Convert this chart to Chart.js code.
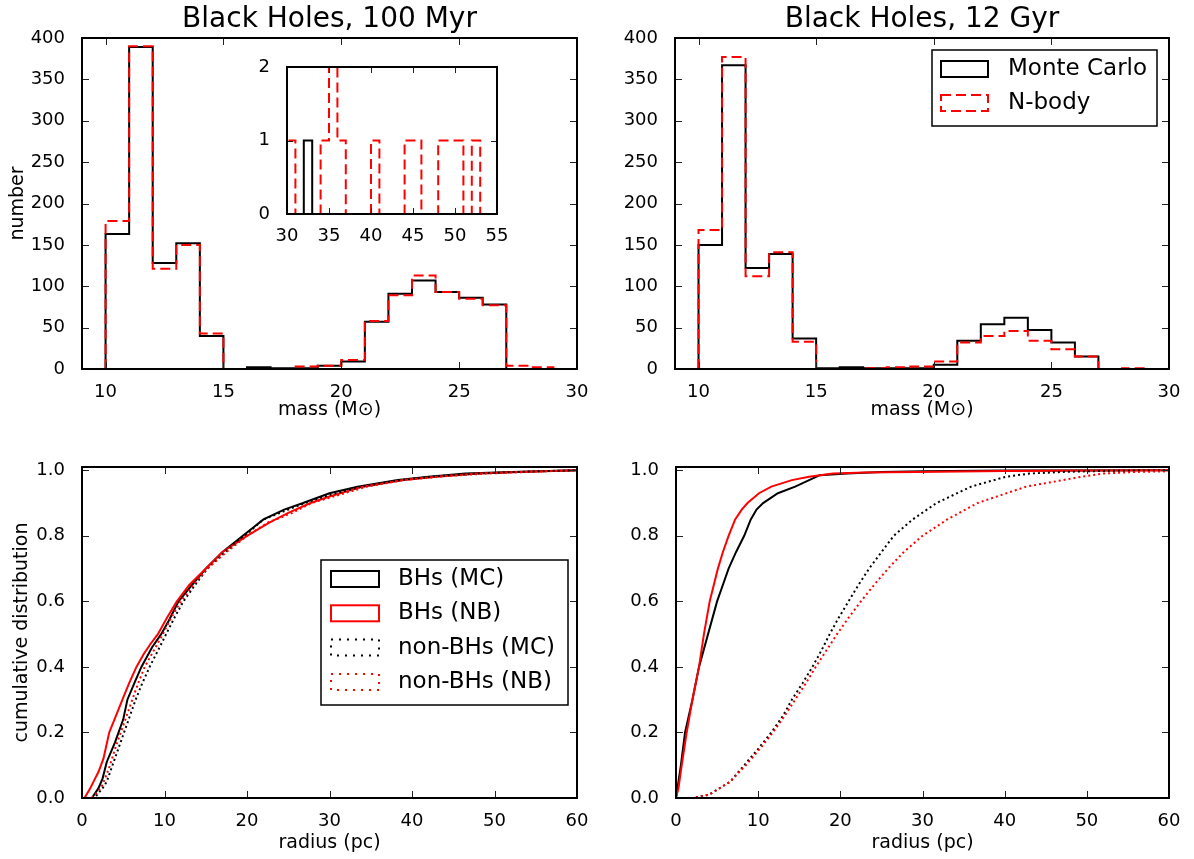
<!DOCTYPE html>
<html>
<head>
<meta charset="utf-8">
<script src="https://cdn.jsdelivr.net/npm/chart.js"></script>
<style>
html, body { margin: 0; padding: 0; background: #fff; }
#fig { position: relative; width: 1194px; height: 859px; overflow: hidden; background: #fff; }
#fig canvas { position: absolute; }
</style>
</head>
<body>
<div id="fig">
  <canvas id="tl" width="597" height="430" style="left:0px;top:0px"></canvas>
  <canvas id="tr" width="597" height="430" style="left:597px;top:0px"></canvas>
  <canvas id="bl" width="597" height="429" style="left:0px;top:430px"></canvas>
  <canvas id="br" width="597" height="429" style="left:597px;top:430px"></canvas>
  <canvas id="ins" width="273" height="205" style="left:240px;top:45px"></canvas>
</div>
<script>
// mass histograms, 1 Msun bins
var massEdges = [10, 11, 12, 13, 14, 15, 16, 17, 18, 19, 20, 21, 22, 23, 24, 25, 26, 27, 28, 29, 30];
var bh100MC = [163, 389, 128, 152, 40, 0, 2, 1, 1, 4, 9, 57, 91, 107, 93, 86, 78, 0, 0, 0];
var bh100NB = [179, 390, 121, 150, 43, 0, 0, 0, 3, 4, 11, 58, 89, 113, 93, 85, 77, 4, 2, 0];
var bh12MC = [150, 367, 122, 139, 37, 1, 2, 1, 1, 1, 5, 34, 54, 62, 47, 32, 15, 0, 0, 0];
var bh12NB = [168, 377, 112, 141, 33, 0, 0, 1, 2, 3, 9, 32, 40, 46, 34, 24, 15, 0, 1, 0];

// inset: high mass tail at 100 Myr
var insetEdges = [30, 31, 32, 33, 34, 35, 36, 37, 38, 39, 40, 41, 42, 43, 44, 45, 46, 47, 48, 49, 50, 51, 52, 53, 54, 55];
var tail100MC = [0, 0, 1, 0, 0, 0, 0, 0, 0, 0, 0, 0, 0, 0, 0, 0, 0, 0, 0, 0, 0, 0, 0, 0, 0];
var tail100NB = [1, 0, 0, 0, 1, 2, 1, 0, 0, 0, 1, 0, 0, 0, 1, 1, 0, 0, 1, 1, 1, 0, 1, 0, 0];

var massTicks = [10, 15, 20, 25, 30];
var countTicks = [0, 50, 100, 150, 200, 250, 300, 350, 400];
var insetXTicks = [30, 35, 40, 45, 50, 55];
var insetYTicks = [0, 1, 2];
var radiusTicks = [0, 10, 20, 30, 40, 50, 60];
var cdfTicks = [0, 0.2, 0.4, 0.6, 0.8, 1.0];

// cumulative radial distributions, 100 Myr
var r100BhMC = [0, 1.2, 2, 2.5, 3, 4, 5, 5.5, 6.5, 7.2, 8.5, 9.6, 10.5, 11.7, 13, 15, 17, 19.5, 22, 24.5, 26.8, 30, 33.4, 38.3, 42, 46.5, 52, 60];
var c100BhMC = [0, 0, 0.03, 0.06, 0.11, 0.17, 0.24, 0.3, 0.36, 0.4, 0.46, 0.5, 0.54, 0.6, 0.64, 0.7, 0.75, 0.8, 0.85, 0.88, 0.9, 0.93, 0.95, 0.97, 0.98, 0.99, 0.995, 1.0];
var r100BhNB = [0, 0.3, 1, 1.4, 2, 2.6, 3.3, 4.1, 4.9, 5.7, 6.6, 7.5, 8.3, 9.2, 10.3, 11.5, 13, 15, 17, 20, 22.7, 25, 27.7, 30, 34, 39, 43, 48, 53, 60];
var c100BhNB = [0, 0, 0.03, 0.05, 0.08, 0.12, 0.2, 0.25, 0.3, 0.35, 0.4, 0.44, 0.47, 0.5, 0.55, 0.6, 0.65, 0.7, 0.75, 0.8, 0.84, 0.87, 0.9, 0.92, 0.95, 0.97, 0.98, 0.99, 0.995, 1.0];
var r100StMC = [0, 1.5, 2.5, 3, 3.7, 4.4, 5.1, 5.8, 6.5, 7.3, 8.2, 9.2, 10.2, 11.2, 12.3, 13.7, 15.2, 17.3, 19.7, 22, 25, 27, 30, 34, 38, 43, 48, 54, 60];
var c100StMC = [0, 0, 0.03, 0.05, 0.1, 0.15, 0.2, 0.25, 0.3, 0.35, 0.4, 0.45, 0.5, 0.55, 0.6, 0.65, 0.7, 0.75, 0.8, 0.85, 0.88, 0.9, 0.925, 0.95, 0.968, 0.982, 0.99, 0.996, 1.0];
var r100StNB = [0, 1.2, 2.3, 2.8, 3.4, 4, 4.7, 5.4, 6.1, 6.8, 7.6, 8.7, 9.8, 10.8, 12, 13.5, 15.2, 17.5, 20, 22.5, 25.5, 27.8, 30.5, 34.5, 39, 44, 49, 55, 60];
var c100StNB = [0, 0, 0.03, 0.06, 0.1, 0.15, 0.2, 0.25, 0.3, 0.35, 0.4, 0.45, 0.5, 0.55, 0.6, 0.65, 0.7, 0.75, 0.8, 0.84, 0.87, 0.9, 0.92, 0.95, 0.97, 0.982, 0.99, 0.996, 1.0];

// cumulative radial distributions, 12 Gyr
var r12BhMC = [0, 0.3, 0.6, 1.1, 2.0, 2.8, 3.9, 5.0, 5.7, 6.4, 7.3, 8.3, 9.1, 9.8, 10.6, 11.5, 12.4, 14.5, 16.2, 17.5, 20.8, 25, 30, 40, 60];
var c12BhMC = [0, 0.05, 0.1, 0.2, 0.3, 0.4, 0.5, 0.6, 0.65, 0.7, 0.75, 0.8, 0.85, 0.88, 0.9, 0.915, 0.93, 0.95, 0.97, 0.985, 0.99, 0.995, 0.997, 0.999, 1.0];
var r12BhNB = [0, 0.3, 0.7, 1.3, 2.0, 2.8, 3.4, 4.1, 4.6, 5.1, 5.7, 6.4, 7.2, 8.0, 8.7, 10.1, 11.6, 14.1, 16.2, 19.1, 23, 29, 40, 60];
var c12BhNB = [0, 0.03, 0.1, 0.2, 0.3, 0.4, 0.5, 0.6, 0.65, 0.7, 0.75, 0.8, 0.85, 0.88, 0.9, 0.93, 0.95, 0.97, 0.98, 0.99, 0.993, 0.995, 0.998, 1.0];
var r12StMC = [0, 2, 3, 4, 5, 6.6, 8.3, 10, 11.6, 13, 14.1, 15.4, 16.6, 17.7, 18.7, 19.8, 21, 22.2, 23.5, 25, 26.5, 28.8, 31.7, 35.9, 40.1, 43, 47, 52, 60];
var c12StMC = [0, 0, 0.005, 0.01, 0.025, 0.05, 0.1, 0.15, 0.2, 0.25, 0.3, 0.35, 0.4, 0.45, 0.5, 0.55, 0.6, 0.65, 0.7, 0.75, 0.8, 0.85, 0.9, 0.95, 0.98, 0.99, 0.995, 0.998, 1.0];
var r12StNB = [0, 2, 3, 4, 5, 6.6, 8.5, 10.2, 11.8, 13.2, 14.5, 15.8, 17, 18.3, 19.6, 21, 22.5, 24.1, 25.8, 27.7, 30, 33, 36.7, 42.6, 49.3, 52, 56, 60];
var c12StNB = [0, 0, 0.005, 0.01, 0.025, 0.05, 0.1, 0.15, 0.2, 0.25, 0.3, 0.35, 0.4, 0.45, 0.5, 0.55, 0.6, 0.65, 0.7, 0.75, 0.8, 0.85, 0.9, 0.95, 0.98, 0.99, 0.995, 0.997];

Chart.defaults.font.family = '"DejaVu Sans", sans-serif';
Chart.defaults.color = '#000';

// inward ticks on all four sides plus the axes frame
var frameTicks = {
  id: 'frameTicks',
  beforeDatasetsDraw: function (chart, args, o) {
    if (!o.fill) return;
    var a = chart.chartArea, ctx = chart.ctx;
    ctx.save();
    ctx.fillStyle = '#fff';
    ctx.fillRect(a.left, a.top, a.right - a.left, a.bottom - a.top);
    ctx.restore();
  },
  afterDatasetsDraw: function (chart, args, o) {
    var ctx = chart.ctx, a = chart.chartArea, xs = chart.scales.x, ys = chart.scales.y;
    var len = o.len || 7;
    ctx.save();
    ctx.strokeStyle = '#222';
    ctx.lineWidth = 1;
    ctx.beginPath();
    xs.ticks.forEach(function (t) {
      var p = Math.round(xs.getPixelForValue(t.value)) + 0.5;
      ctx.moveTo(p, a.bottom); ctx.lineTo(p, a.bottom - len);
      ctx.moveTo(p, a.top); ctx.lineTo(p, a.top + len);
    });
    ys.ticks.forEach(function (t) {
      var p = Math.round(ys.getPixelForValue(t.value)) + 0.5;
      ctx.moveTo(a.left, p); ctx.lineTo(a.left + len, p);
      ctx.moveTo(a.right, p); ctx.lineTo(a.right - len, p);
    });
    ctx.stroke();
    ctx.strokeStyle = '#000';
    ctx.lineWidth = 2;
    ctx.strokeRect(a.left, a.top, a.right - a.left, a.bottom - a.top);
    ctx.restore();
  }
};

// matplotlib style legend box with outlined patch handles
var boxLegend = {
  id: 'boxLegend',
  afterDraw: function (chart, args, o) {
    if (!o.show) return;
    var ctx = chart.ctx, a = chart.chartArea;
    var items = chart.data.datasets.filter(function (d) { return d.label; });
    var x = a.right - o.marginX - o.w;
    var y = o.center ? (a.top + a.bottom) / 2 - o.h / 2 : a.top + o.marginY;
    ctx.save();
    ctx.fillStyle = '#fff';
    ctx.fillRect(x, y, o.w, o.h);
    ctx.strokeStyle = '#000';
    ctx.lineWidth = 1.5;
    ctx.strokeRect(x, y, o.w, o.h);
    ctx.font = o.font + 'px "DejaVu Sans", sans-serif';
    ctx.textBaseline = 'middle';
    items.forEach(function (d, i) {
      var cy = y + o.firstY + o.rowH * i;
      ctx.setLineDash(d.handleDash || []);
      ctx.strokeStyle = d.borderColor;
      ctx.lineWidth = 2;
      ctx.strokeRect(x + o.handleX, cy - o.handleH / 2, o.handleW, o.handleH);
      ctx.setLineDash([]);
      ctx.fillStyle = '#000';
      ctx.fillText(d.label, x + o.textX, cy);
    });
    ctx.restore();
  }
};

Chart.register(frameTicks, boxLegend);

function stepPoints(edges, counts) {
  var pts = [{ x: edges[0], y: 0 }];
  for (var i = 0; i < counts.length; i++) pts.push({ x: edges[i], y: counts[i] });
  pts.push({ x: edges[counts.length], y: 0 });
  return pts;
}

function pairs(rs, vs) {
  return rs.map(function (r, i) { return { x: r, y: vs[i] }; });
}

function hist(label, edges, counts, color, dash, order) {
  return {
    label: label, data: stepPoints(edges, counts), stepped: true,
    borderColor: color, borderWidth: 2, borderDash: dash, handleDash: dash,
    borderCapStyle: 'butt', pointRadius: 0, fill: false, order: order
  };
}

function cdf(label, rs, vs, color, dash, handleDash, order) {
  return {
    label: label, data: pairs(rs, vs),
    borderColor: color, borderWidth: 2, borderDash: dash, handleDash: handleDash,
    borderCapStyle: 'butt', pointRadius: 0, fill: false, tension: 0, order: order
  };
}

function axis(s) {
  return {
    type: 'linear', min: s.min, max: s.max,
    grid: { display: false }, border: { display: false },
    afterBuildTicks: function (sc) { sc.ticks = s.ticks.map(function (v) { return { value: v }; }); },
    afterFit: function (sc) { if (s.w !== undefined) sc.width = s.w; if (s.h !== undefined) sc.height = s.h; },
    ticks: { font: { size: 18 }, padding: s.pad, autoSkip: false, maxRotation: 0,
      callback: s.fmt || function (v) { return String(v); } },
    title: s.title ? { display: true, text: s.title, font: { size: 19 }, padding: s.tpad } : { display: false }
  };
}

function makeChart(id, datasets, s) {
  return new Chart(document.getElementById(id), {
    type: 'line',
    data: { datasets: datasets },
    options: {
      responsive: false, devicePixelRatio: 1, animation: false,
      layout: { padding: s.pad },
      plugins: {
        legend: { display: false },
        tooltip: { enabled: false },
        title: s.title ? { display: true, text: s.title, fullSize: false,
          font: { size: 28, weight: 'normal' }, padding: { top: 3, bottom: 1.4 } } : { display: false },
        frameTicks: { len: s.tickLen || 7, fill: !!s.fill },
        boxLegend: s.legend || { show: false }
      },
      scales: { x: axis(s.x), y: axis(s.y) }
    }
  });
}

function oneDec(v) { return v.toFixed(1); }

makeChart('tl', [
  hist('Monte Carlo', massEdges, bh100MC, '#000', [], 2),
  hist('N-body', massEdges, bh100NB, '#ff0000', [10, 5], 1)
], {
  title: 'Black Holes, 100 Myr',
  pad: { left: 0, right: 20, top: 0, bottom: 0 },
  x: { min: 9, max: 30, ticks: massTicks, h: 61, pad: 5, title: 'mass (M\u2299)', tpad: { top: 0, bottom: 8.6 } },
  y: { min: 0, max: 400, ticks: countTicks, w: 82, pad: 9, title: 'number', tpad: { top: 6.6, bottom: 0 } }
});

makeChart('ins', [
  hist('', insetEdges, tail100MC, '#000', [], 2),
  hist('', insetEdges, tail100NB, '#ff0000', [10, 5], 1)
], {
  fill: true, tickLen: 6,
  pad: { left: 0, right: 16, top: 22, bottom: 0 },
  x: { min: 30, max: 55, ticks: insetXTicks, h: 36, pad: 4 },
  y: { min: 0, max: 2, ticks: insetYTicks, w: 47, pad: 9 }
});

makeChart('tr', [
  hist('Monte Carlo', massEdges, bh12MC, '#000', [], 2),
  hist('N-body', massEdges, bh12NB, '#ff0000', [10, 5], 1)
], {
  title: 'Black Holes, 12 Gyr',
  pad: { left: 0, right: 25, top: 0, bottom: 0 },
  x: { min: 9, max: 30, ticks: massTicks, h: 61, pad: 5, title: 'mass (M\u2299)', tpad: { top: 0, bottom: 8.6 } },
  y: { min: 0, max: 400, ticks: countTicks, w: 78, pad: 9 },
  legend: { show: true, marginX: 12, marginY: 12, w: 225, h: 76, firstY: 19, rowH: 34,
    handleX: 9, handleW: 47, handleH: 16, textX: 76, font: 23 }
});

makeChart('bl', [
  cdf('BHs (MC)', r100BhMC, c100BhMC, '#000', [], [], 4),
  cdf('BHs (NB)', r100BhNB, c100BhNB, '#ff0000', [], [], 3),
  cdf('non-BHs (MC)', r100StMC, c100StMC, '#000', [2, 3], [2, 6], 2),
  cdf('non-BHs (NB)', r100StNB, c100StNB, '#ff0000', [2, 3], [2, 6], 1)
], {
  pad: { left: 0, right: 20, top: 37, bottom: 0 },
  x: { min: 0, max: 60, ticks: radiusTicks, h: 61, pad: 5, title: 'radius (pc)', tpad: { top: 0, bottom: 4.6 } },
  y: { min: 0, max: 1.01, ticks: cdfTicks, w: 82, pad: 9, fmt: oneDec, title: 'cumulative distribution', tpad: { top: 10.6, bottom: 0 } },
  legend: { show: true, center: true, marginX: 9, w: 247, h: 145, firstY: 19, rowH: 34.3,
    handleX: 10, handleW: 48, handleH: 16, textX: 77, font: 23 }
});

makeChart('br', [
  cdf('BHs (MC)', r12BhMC, c12BhMC, '#000', [], [], 4),
  cdf('BHs (NB)', r12BhNB, c12BhNB, '#ff0000', [], [], 3),
  cdf('non-BHs (MC)', r12StMC, c12StMC, '#000', [2, 3], [2, 6], 2),
  cdf('non-BHs (NB)', r12StNB, c12StNB, '#ff0000', [2, 3], [2, 6], 1)
], {
  pad: { left: 0, right: 25, top: 37, bottom: 0 },
  x: { min: 0, max: 60, ticks: radiusTicks, h: 61, pad: 5, title: 'radius (pc)', tpad: { top: 0, bottom: 4.6 } },
  y: { min: 0, max: 1.01, ticks: cdfTicks, w: 79, pad: 9, fmt: oneDec }
});
</script>
</body>
</html>
